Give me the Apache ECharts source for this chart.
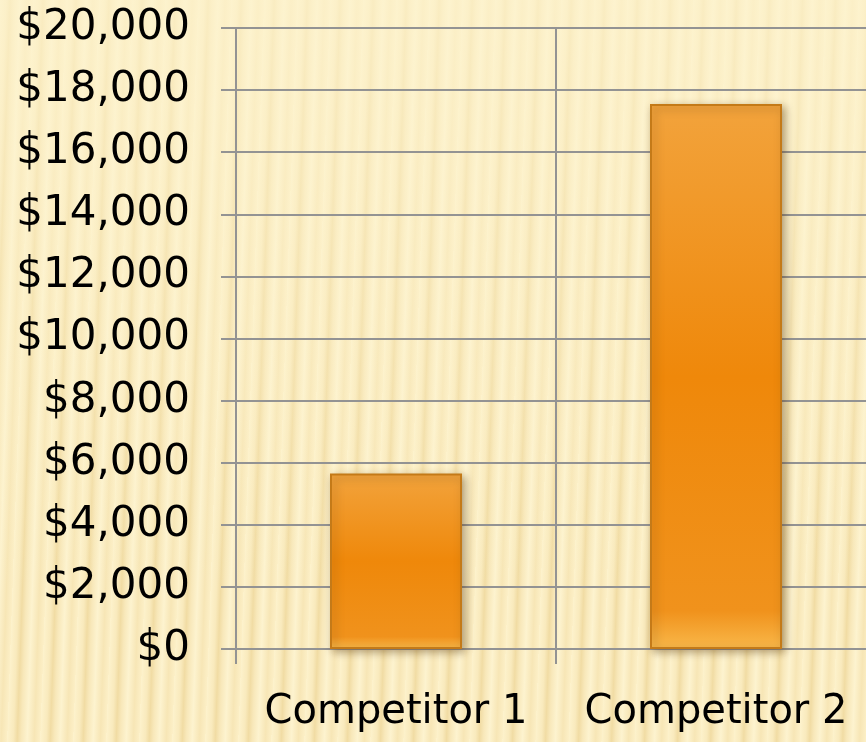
<!DOCTYPE html>
<html>
<head>
<meta charset="utf-8">
<script src="https://cdn.jsdelivr.net/npm/echarts@6/dist/echarts.min.js"></script>
<style>
html, body { margin: 0; padding: 0; }
#main {
  width: 866px; height: 742px;
  background-color: #fcefc5;
  background-image:
    linear-gradient(to bottom, rgba(253,243,206,0.7) 0%, rgba(253,243,206,0.3) 45%, rgba(253,243,206,0) 80%),
    repeating-linear-gradient(92deg, #fdf2cc 0px, #f9eabd 6px, #f1dca4 10px, #f8e8ba 14px, #fdf3cf 20px, #f7e6b6 27px, #fcefc6 33px);
}
</style>
</head>
<body>
<div id="main"></div>
<script>
var categories = ['Competitor 1', 'Competitor 2'];
var values = [5650, 17550];
var yMin = 0, yMax = 20000, yStep = 2000;

var chart = echarts.init(document.getElementById('main'));

var gray = '#939393';
var option = {
  animation: false,
  grid: { left: 236, top: 28, right: -10, bottom: 93, outerBoundsMode: 'none' },
  xAxis: {
    type: 'category',
    data: categories,
    boundaryGap: true,
    axisLine: { show: true, lineStyle: { color: gray, width: 2 } },
    axisTick: { show: true, interval: 0, length: 15, lineStyle: { color: gray, width: 2 } },
    axisLabel: { interval: 0, hideOverlap: false, color: '#000', fontFamily: 'DejaVu Sans', fontSize: 40, margin: 44 },
    splitLine: { show: true, interval: 0, lineStyle: { color: gray, width: 2 } }
  },
  yAxis: {
    type: 'value',
    min: yMin, max: yMax, interval: yStep,
    axisLine: { show: true, lineStyle: { color: gray, width: 2 } },
    axisTick: { show: true, length: 15, lineStyle: { color: gray, width: 2 } },
    axisLabel: {
      color: '#000', fontFamily: 'DejaVu Sans', fontSize: 42, margin: 46,
      formatter: function (v) { return '$' + v.toLocaleString('en-US'); }
    },
    splitLine: { show: true, lineStyle: { color: gray, width: 2 } }
  },
  series: [{
    type: 'bar',
    data: values,
    barWidth: 132,
    itemStyle: {
      color: new echarts.graphic.LinearGradient(0, 0, 0, 1, [
        { offset: 0, color: '#f2a33c' },
        { offset: 0.5, color: '#ef880a' },
        { offset: 0.93, color: '#f0921c' },
        { offset: 1, color: '#f9b84a' }
      ]),
      borderColor: '#c47a18',
      borderWidth: 2,
      shadowColor: 'rgba(90,60,20,0.45)',
      shadowBlur: 8,
      shadowOffsetX: 3,
      shadowOffsetY: 3
    }
  }]
};
chart.setOption(option);
</script>
</body>
</html>
